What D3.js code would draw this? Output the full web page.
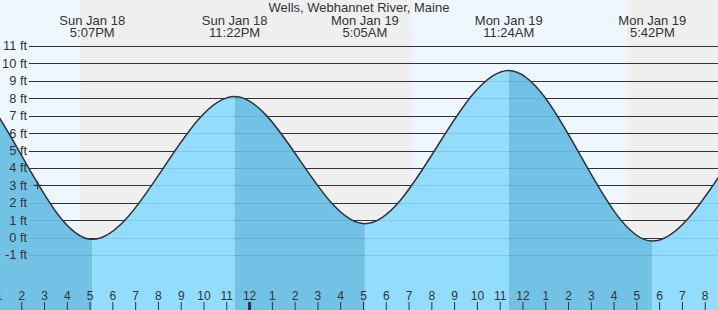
<!DOCTYPE html>
<html>
<head>
<meta charset="utf-8">
<script src="https://cdn.jsdelivr.net/npm/d3@7"></script>
<style>
  body { margin: 0; background: #fff; }
  svg { display: block; font-family: "Liberation Sans", Arial, sans-serif; }
</style>
</head>
<body>
<svg id="chart" width="718" height="310"></svg>
<script>
"use strict";

// tide highs / lows (first and last are off screen, they only shape the curve)
const tideTimes = ["2026-01-18 04:45", "2026-01-18 10:55", "2026-01-18 17:07", "2026-01-18 23:22",
  "2026-01-19 05:05", "2026-01-19 11:24", "2026-01-19 17:42", "2026-01-19 23:55", "2026-01-20 06:05"];
const tideHeights = [0.7, 9.5, -0.1, 8.1, 0.8, 9.6, -0.2, 7.9, 0.6];

// day / night bands (sunset, sunrise)
const lightTimes = ["2026-01-18 13:04", "2026-01-18 16:35", "2026-01-19 07:09", "2026-01-19 16:35", "2026-01-19 20:35"];
const lightKinds = ["day", "night", "day", "night"];

const feetTicks = [-1, 0, 1, 2, 3, 4, 5, 6, 7, 8, 9, 10, 11];
// hour ticks run from 1 PM to 8 PM next day
const hourStart = "2026-01-18 13:00";
const hourEnd = "2026-01-19 21:00";

const nowTime = "2026-01-18 14:43";
const nowHeight = 3;
const title = "Wells, Webhannet River, Maine";

const W = 718, H = 310;
const parse = d3.timeParse("%Y-%m-%d %H:%M");
const svg = d3.select("#chart");

const tides = tideTimes.map(function (t, i) {
  return { time: parse(t), ft: tideHeights[i] };
});

const x = d3.scaleTime()
  .domain([parse(lightTimes[0]), parse(lightTimes[lightTimes.length - 1])])
  .range([0, W]);
const y = d3.scaleLinear().domain([-1, 11]).range([255, 46]);

// background day/night
svg.append("g")
  .selectAll("rect")
  .data(lightKinds)
  .enter()
  .append("rect")
  .attr("x", function (d, i) { return x(parse(lightTimes[i])); })
  .attr("width", function (d, i) { return x(parse(lightTimes[i + 1])) - x(parse(lightTimes[i])); })
  .attr("y", 0)
  .attr("height", H)
  .attr("fill", function (d) { return d === "day" ? "#eef7ff" : "#efefef"; });

// grid lines
function gridY(d) { return Math.round(y(d)) + 0.5; }
svg.append("g")
  .selectAll("line")
  .data(feetTicks)
  .enter()
  .append("line")
  .attr("x1", 29).attr("x2", W)
  .attr("y1", gridY).attr("y2", gridY)
  .attr("stroke", "#333")
  .attr("stroke-width", 1);

// water area
const area = d3.area()
  .curve(d3.curveMonotoneX)
  .x(function (d) { return x(d.time); })
  .y0(H)
  .y1(function (d) { return y(d.ft); });
const line = d3.line()
  .curve(d3.curveMonotoneX)
  .x(function (d) { return x(d.time); })
  .y(function (d) { return y(d.ft); });

svg.append("clipPath")
  .attr("id", "water")
  .append("path")
  .attr("d", area(tides));

const water = svg.append("g").attr("clip-path", "url(#water)");

// rising = light, falling = dark
water.selectAll("rect")
  .data(tides.slice(0, -1))
  .enter()
  .append("rect")
  .attr("x", function (d) { return x(d.time); })
  .attr("width", function (d, i) { return x(tides[i + 1].time) - x(d.time); })
  .attr("y", 0)
  .attr("height", H)
  .attr("fill", function (d, i) { return tides[i + 1].ft > d.ft ? "#92dcfe" : "#72c2e6"; });

water.selectAll("line")
  .data(feetTicks)
  .enter()
  .append("line")
  .attr("x1", 29).attr("x2", W)
  .attr("y1", gridY).attr("y2", gridY)
  .attr("stroke", "#000")
  .attr("stroke-opacity", 0.09);

svg.append("path")
  .attr("d", line(tides))
  .attr("fill", "none")
  .attr("stroke", "#333")
  .attr("stroke-width", 1.5);

// y labels
svg.append("g")
  .selectAll("text")
  .data(feetTicks)
  .enter()
  .append("text")
  .attr("x", 27)
  .attr("y", function (d) { return y(d); })
  .attr("dy", "0.35em")
  .attr("text-anchor", "end")
  .attr("font-size", 12.8)
  .attr("fill", "#333")
  .text(function (d) { return d + " ft"; });

// title + high/low labels
svg.append("text")
  .attr("x", W / 2)
  .attr("y", 11.5)
  .attr("text-anchor", "middle")
  .attr("font-size", 13)
  .attr("fill", "#333")
  .text(title);

const shown = tides.filter(function (d) {
  return d.time >= x.domain()[0] && d.time <= x.domain()[1];
});
const dayFmt = d3.timeFormat("%a %b %-d");
const timeFmt = d3.timeFormat("%-I:%M%p");
const heads = svg.append("g")
  .selectAll("text")
  .data(shown)
  .enter()
  .append("text")
  .attr("text-anchor", "middle")
  .attr("font-size", 13)
  .attr("fill", "#333");
heads.append("tspan")
  .attr("x", function (d) { return x(d.time); })
  .attr("y", 25)
  .text(function (d) { return dayFmt(d.time); });
heads.append("tspan")
  .attr("x", function (d) { return x(d.time); })
  .attr("y", 37)
  .text(function (d) { return timeFmt(d.time); });

// hour axis
const axis = svg.append("g")
  .attr("transform", "translate(0," + H + ")")
  .call(d3.axisTop(x)
    .tickValues(d3.timeHour.range(parse(hourStart), parse(hourEnd)))
    .tickSize(8)
    .tickPadding(2)
    .tickFormat(d3.timeFormat("%-I")));
axis.select(".domain").remove();
axis.attr("font-family", null).attr("font-size", 12);
axis.selectAll("text").attr("fill", "#333");
axis.selectAll("line").attr("stroke", "#333");
axis.selectAll(".tick")
  .filter(function (d) { return d.getHours() === 0; })
  .select("line")
  .attr("stroke-width", 3);

// current time marker
const nx = x(parse(nowTime)), ny = y(nowHeight);
svg.append("path")
  .attr("d", "M" + (nx - 4) + "," + ny + "H" + (nx + 4) + "M" + nx + "," + (ny - 4) + "V" + (ny + 4))
  .attr("stroke", "#333")
  .attr("stroke-width", 1.2);
</script>
</body>
</html>
